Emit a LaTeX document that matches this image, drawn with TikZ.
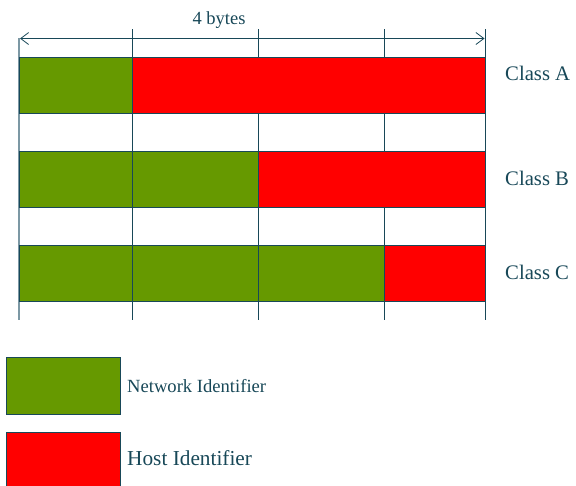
\documentclass[tikz,border=0pt]{standalone}
\usepackage{fontspec}
\setmainfont{Liberation Serif}
\usetikzlibrary{arrows.meta}

\definecolor{netgreen}{RGB}{102,153,0}
\definecolor{hostred}{RGB}{255,0,0}
\definecolor{ink}{RGB}{24,72,88}
\definecolor{edgegray}{RGB}{124,152,164}

\tikzset{
  divider/.style={draw=ink, line width=0.9pt},
  netcell/.style={fill=netgreen, draw=ink, line width=0.9pt},
  hostcell/.style={fill=hostred, draw=ink, line width=0.9pt},
  label/.style={text=ink, inner sep=0pt},
  span/.style={draw=ink, line width=0.8pt,
    {Straight Barb[length=8pt,width=12pt,line width=0.8pt]}-{Straight Barb[length=8pt,width=12pt,line width=0.8pt]}}
}

\begin{document}
\begin{tikzpicture}[x=1pt,y=-1pt]
\useasboundingbox (0,0) rectangle (576,485);

% byte boundaries behind the address rows
\draw[draw=edgegray, line width=1.4pt] (19,38) -- (19,320);
\foreach \x in {132.5,258.5,384.5,485} \draw[divider] (\x,29) -- (\x,320);

% span of the four bytes
\coordinate (spanL) at (20,38.5);
\coordinate (spanR) at (484.5,38.5);
\draw[span] (spanL) -- (spanR);
\node[label, anchor=base, font=\fontsize{18.5}{20}\selectfont] (bytes) at (219,24) {4 bytes};

% Class A: one network byte, three host bytes
\filldraw[netcell] (19,57.3) rectangle (132.5,113.3);
\filldraw[hostcell] (132.5,57.3) rectangle (485,113.3);
\node[label, anchor=base west, font=\fontsize{20.7}{22}\selectfont] (classA) at (505,80.7) {Class A};

% Class B: two network bytes, two host bytes
\filldraw[netcell] (19,151.3) rectangle (132.5,207.7);
\filldraw[netcell] (132.5,151.3) rectangle (258.5,207.7);
\filldraw[hostcell] (258.5,151.3) rectangle (485,207.7);
\node[label, anchor=base west, font=\fontsize{20.7}{22}\selectfont] (classB) at (505,185.7) {Class B};

% Class C: three network bytes, one host byte
\filldraw[netcell] (19,245) rectangle (132.5,301.3);
\filldraw[netcell] (132.5,245) rectangle (258.5,301.3);
\filldraw[netcell] (258.5,245) rectangle (384.5,301.3);
\filldraw[hostcell] (384.5,245) rectangle (485,301.3);
\node[label, anchor=base west, font=\fontsize{20.7}{22}\selectfont] (classC) at (505,279.3) {Class C};

% legend
\filldraw[netcell] (6.5,357.3) rectangle (120,414);
\node[label, anchor=base west, font=\fontsize{18.6}{20}\selectfont] (netkey) at (127,392.3) {Network Identifier};
\filldraw[hostcell] (6.5,432.7) rectangle (120,492);
\node[label, anchor=base west, font=\fontsize{21.3}{23}\selectfont] (hostkey) at (127,465.7) {Host Identifier};
\end{tikzpicture}
\end{document}
